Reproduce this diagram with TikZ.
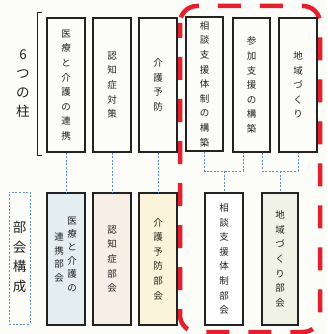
\documentclass[tikz,border=0pt]{standalone}
\usepackage{fontspec}
\newfontfamily\jp{Noto Sans CJK JP}
\usetikzlibrary{calc}
\definecolor{bg}{HTML}{FCFCF8}
\definecolor{ink}{HTML}{222222}
\definecolor{conblue}{HTML}{5A8EC8}
\definecolor{redd}{HTML}{E2202E}
\definecolor{fillA}{HTML}{E4EEF0}
\definecolor{fillB}{HTML}{F7EEE6}
\definecolor{fillC}{HTML}{FCF4DA}
\definecolor{fillD}{HTML}{F1F2E6}
\tikzset{
  colbox/.style={draw=ink, line width=1.1pt, minimum width=38pt, minimum height=134pt, inner sep=0pt, align=center, text=ink, font=\jp\fontsize{9.5}{14.6}\selectfont},
  subbox/.style={colbox, minimum height=132pt},
  vtxt/.style={inner sep=0pt, align=center, text=ink},
  conn/.style={draw=conblue, line width=0.9pt, dash pattern=on 2pt off 1.6pt},
  reddash/.style={draw=redd, line width=4.5pt, dash pattern=on 23pt off 19pt, rounded corners=17pt}
}
\begin{document}
\begin{tikzpicture}[x=1pt,y=-1pt]
\fill[bg] (0,0) rectangle (327,334);
\useasboundingbox (0,0) rectangle (327,334);

% red dashed group frame
\draw[reddash, dash phase=8pt] (180,6) rectangle (320,332);

% left label 6つの柱 and bracket
\node[vtxt, font=\jp\fontsize{13.5}{19}\selectfont] (hashira) at (23,84) {6\\つ\\の\\柱};
\coordinate (brt) at (41.5,13);
\coordinate (brb) at (41.5,155);
\draw[ink, line width=1pt] (brt) -- ++(-4,0) |- (brb);

% top row: 6 pillars
\node[colbox] (t1) at (66,85) {医\\療\\と\\介\\護\\の\\連\\携};
\node[colbox] (t2) at (112,85) {認\\知\\症\\対\\策};
\node[colbox] (t3) at (158,85) {介\\護\\予\\防};
\node[colbox, minimum width=37pt] (t4) at (204.5,84) {相\\談\\支\\援\\体\\制\\の\\構\\築};
\node[colbox, minimum width=37pt] (t5) at (251.5,85) {参\\加\\支\\援\\の\\構\\築};
\node[colbox] (t6) at (298,85) {地\\域\\づ\\く\\り};

% bottom row
\node[draw=conblue, line width=0.9pt, dash pattern=on 2pt off 1.6pt, minimum width=21pt, minimum height=132pt, inner sep=0pt] (b0) at (19.5,258) {};
\node[vtxt, font=\jp\fontsize{13.5}{19.5}\selectfont] (b0t) at (19.5,257) {部\\会\\構\\成};

\node[subbox, fill=fillA] (b1) at (66,259) {};
\node[vtxt, font=\jp\fontsize{9.5}{13.4}\selectfont] (b1r) at (72,254) {医\\療\\と\\介\\護\\の};
\node[vtxt, font=\jp\fontsize{9.5}{13.4}\selectfont] (b1l) at (59,257.5) {連\\携\\部\\会};
\node[subbox, fill=fillB] (b2) at (112,259) {認\\知\\症\\部\\会};
\node[subbox, fill=fillC] (b3) at (158,259) {介\\護\\予\\防\\部\\会};
\node[subbox, fill=white] (b4) at (224,259) {相\\談\\支\\援\\体\\制\\部\\会};
\node[subbox, fill=fillD, minimum width=36pt] (b5) at (280,259) {地\\域\\づ\\く\\り\\部\\会};

% connectors
\draw[conn] (t1.south) -- (b1.north);
\draw[conn] (t2.south) -- (b2.north);
\draw[conn] (t3.south) -- (b3.north);

\coordinate (j1) at (224,171);
\coordinate (j2) at (280,171);
\coordinate (t5a) at ([xshift=-8.5pt]t5.south);
\coordinate (t5b) at ([xshift=10.5pt]t5.south);
\draw[conn] (t4.south) |- (t5a |- j1) -- (t5a);
\draw[conn] (j1) -- (b4.north);
\draw[conn] (t5b) |- (t6.south |- j2) -- (t6.south);
\draw[conn] (j2) -- (b5.north);
\end{tikzpicture}
\end{document}
